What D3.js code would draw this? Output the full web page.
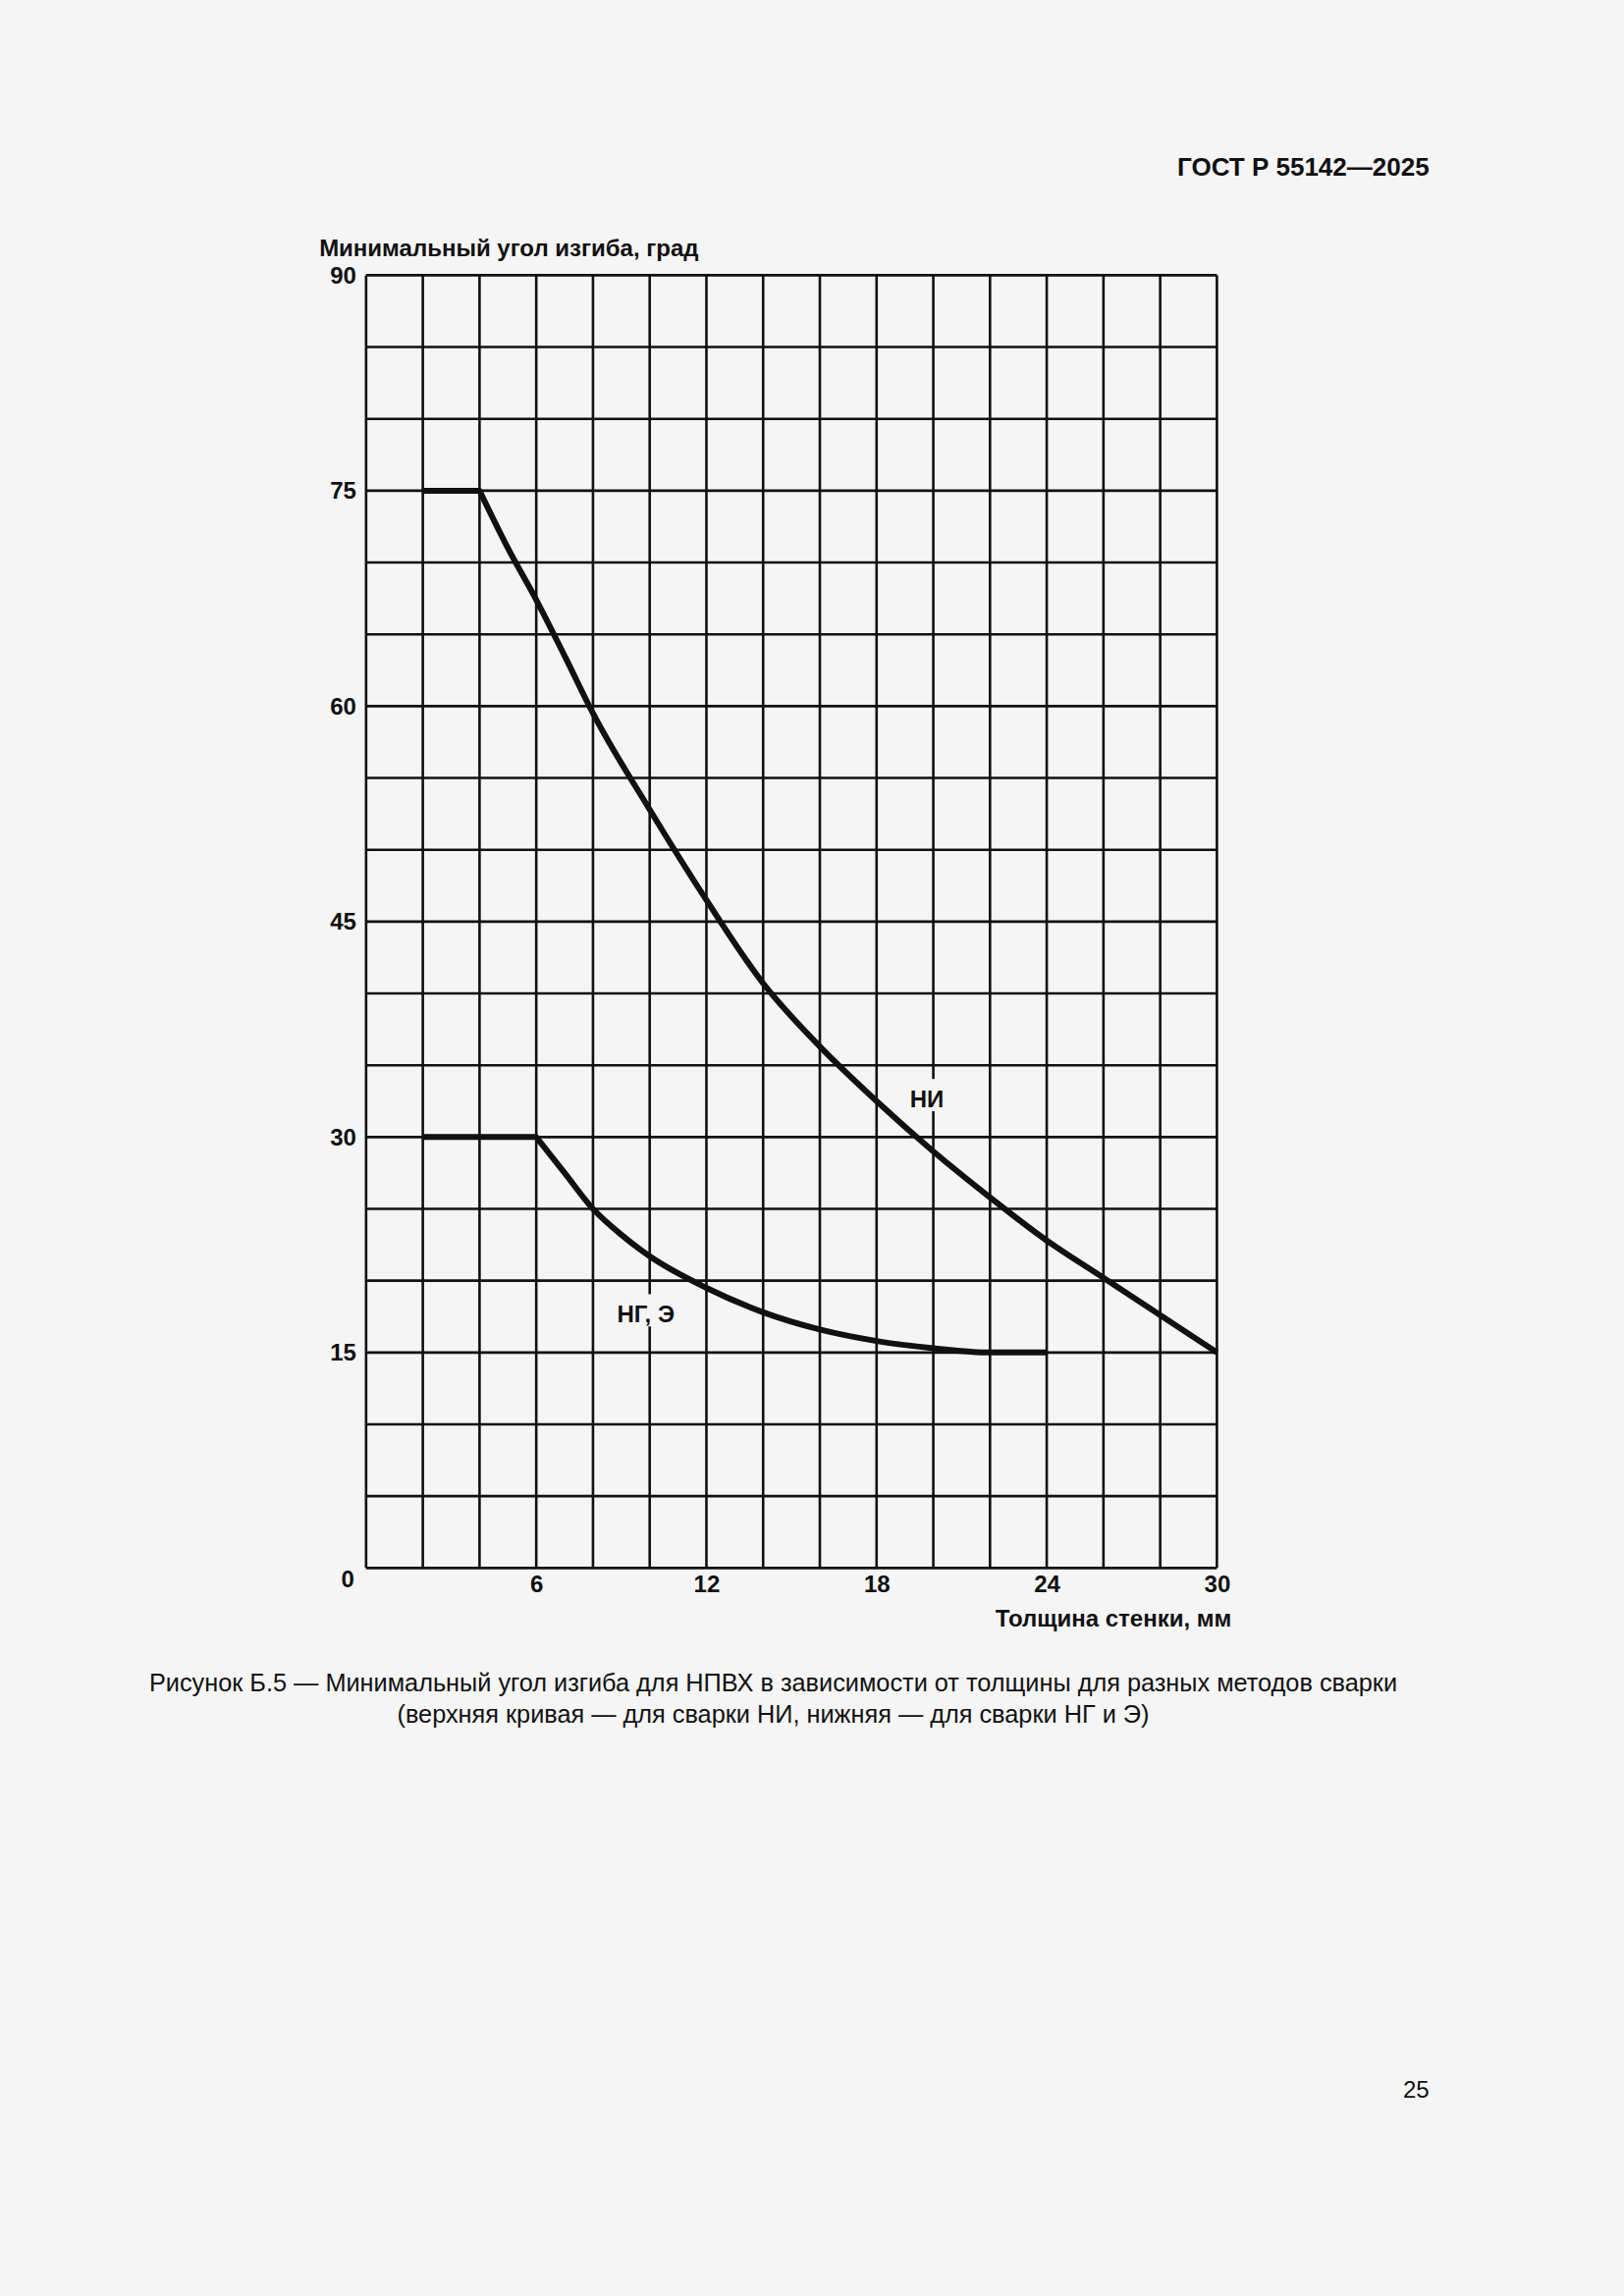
<!DOCTYPE html>
<html><head><meta charset="utf-8">
<script src="https://cdn.jsdelivr.net/npm/d3@7"></script>
<style>body{margin:0;background:#f5f5f5}svg{display:block}text{font-family:"Liberation Sans",Arial,sans-serif;fill:#111}</style>
</head><body><svg id="c" width="1654" height="2339"></svg>
<script>
const xTicks=[6,12,18,24,30];
const yTicks=[0,15,30,45,60,75,90];
const niX=[2,4,5,6,7,8,10,12,14,16,18,20,22,24,26,28,30];
const niY=[75,75,71,67.4,63.5,59.5,52.8,46.5,40.7,36.3,32.5,29,25.8,22.8,20.2,17.6,15];
const ngX=[2,6,7,8,9,10,12,14,16,18,20,22,24];
const ngY=[30,30,27.5,25,23.2,21.7,19.5,17.8,16.6,15.8,15.3,15,15];
const s=1654/1109;
const svg=d3.select("#c");
const x=d3.scaleLinear().domain([0,30]).range([250*s,831*s]);
const y=d3.scaleLinear().domain([0,90]).range([1071*s,188*s]);
const g=svg.append("g");
d3.range(0,31,2).forEach(v=>g.append("line").attr("x1",x(v)).attr("x2",x(v)).attr("y1",y(0)).attr("y2",y(90)).attr("stroke","#111").attr("stroke-width",2.6));
d3.range(0,91,5).forEach(v=>g.append("line").attr("x1",x(0)).attr("x2",x(30)).attr("y1",y(v)).attr("y2",y(v)).attr("stroke","#111").attr("stroke-width",2.6));
const ya=d3.axisLeft(y).tickValues(yTicks.filter(v=>v>0)).tickSize(0).tickPadding(10);
svg.append("g").attr("transform",`translate(${x(0)},0)`).call(ya).call(a=>{a.select(".domain").remove();a.selectAll("text").attr("font-size",24).attr("font-weight","bold").attr("font-family","Liberation Sans").attr("fill","#111")});
const xa=d3.axisBottom(x).tickValues(xTicks).tickSize(0).tickPadding(8);
svg.append("g").attr("transform",`translate(0,${y(0)})`).call(xa).call(a=>{a.select(".domain").remove();a.selectAll("text").attr("font-size",24).attr("font-weight","bold").attr("font-family","Liberation Sans").attr("fill","#111")});
svg.append("text").attr("x",x(0)-12).attr("y",y(0)+20).attr("text-anchor","end").attr("font-size",24).attr("font-weight","bold").text("0");
const lin=d3.line().x(d=>x(d[0])).y(d=>y(d[1]));
const cur=d3.line().x(d=>x(d[0])).y(d=>y(d[1])).curve(d3.curveMonotoneX);
[[niX,niY],[ngX,ngY]].forEach(([a,b])=>{
  const pts=a.map((v,i)=>[v,b[i]]);
  const d=lin(pts.slice(0,2))+cur(pts.slice(1)).replace(/^M/,"L");
  svg.append("path").attr("d",d).attr("fill","none").attr("stroke","#111").attr("stroke-width",6).attr("stroke-linejoin","round");
});
svg.append("rect").attr("x",622*s).attr("y",737*s).attr("width",24*s).attr("height",22*s).attr("fill","#f5f5f5");
svg.append("text").attr("x",633*s).attr("y",756*s).attr("text-anchor","middle").attr("font-size",24).attr("font-weight","bold").text("НИ");
svg.append("rect").attr("x",418*s).attr("y",884*s).attr("width",46*s).attr("height",22*s).attr("fill","#f5f5f5");
svg.append("text").attr("x",441*s).attr("y",903*s).attr("text-anchor","middle").attr("font-size",24).attr("font-weight","bold").text("НГ, Э");
svg.append("text").attr("x",218*s).attr("y",175*s).attr("font-size",24).attr("font-weight","bold").text("Минимальный угол изгиба, град");
svg.append("text").attr("x",841*s).attr("y",1111*s).attr("text-anchor","end").attr("font-size",24).attr("font-weight","bold").text("Толщина стенки, мм");
svg.append("text").attr("x",976*s).attr("y",120*s).attr("text-anchor","end").attr("font-size",26).attr("font-weight","bold").text("ГОСТ Р 55142—2025");
svg.append("text").attr("x",528*s).attr("y",1155*s).attr("text-anchor","middle").attr("font-size",25.3).text("Рисунок Б.5 — Минимальный угол изгиба для НПВХ в зависимости от толщины для разных методов сварки");
svg.append("text").attr("x",528*s).attr("y",1177*s).attr("text-anchor","middle").attr("font-size",25.3).text("(верхняя кривая — для сварки НИ, нижняя — для сварки НГ и Э)");
svg.append("text").attr("x",976*s).attr("y",1433*s).attr("text-anchor","end").attr("font-size",24).text("25");
</script></body></html>
